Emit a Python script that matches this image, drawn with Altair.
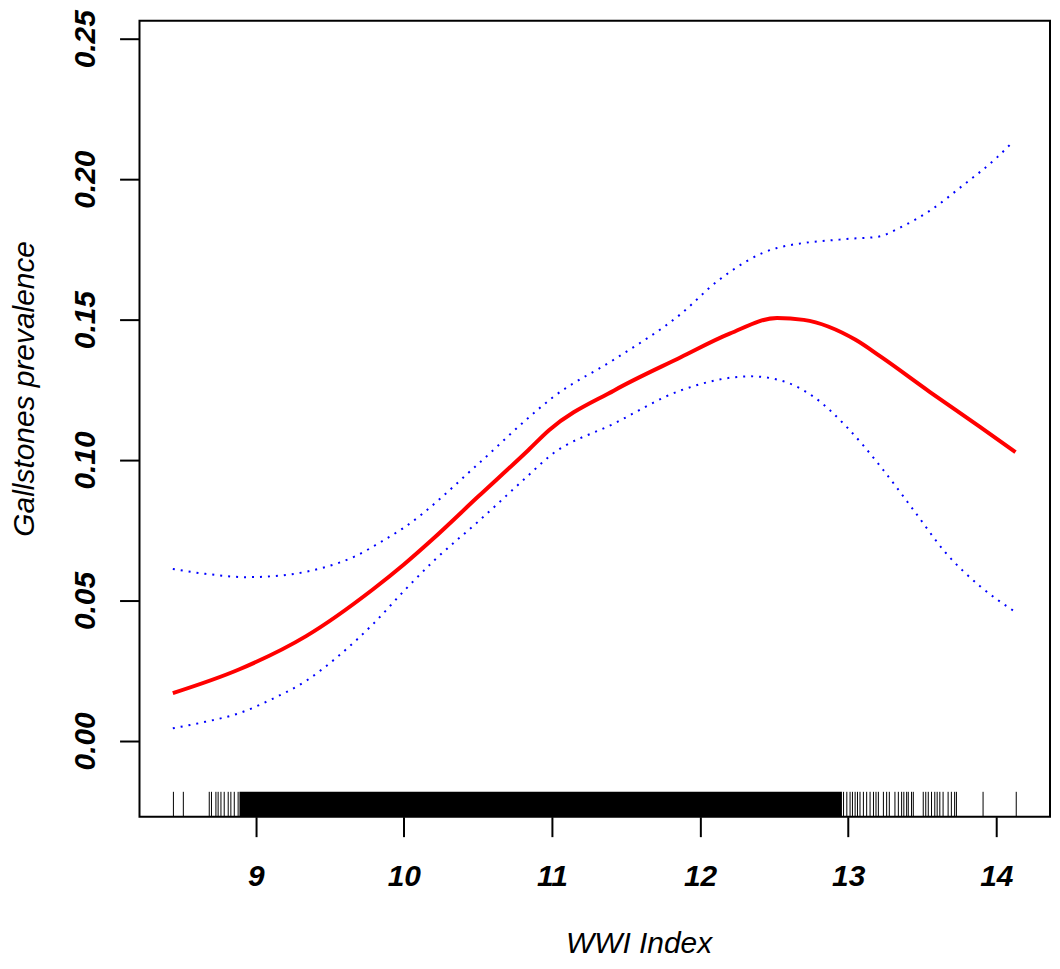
import altair as alt
import pandas as pd

# ---- data ----
fit_x = [8.44, 8.89, 9.34, 9.79, 10.0, 10.19, 10.5, 10.84, 10.98, 11.42, 11.87,
         12.20, 12.52, 12.70, 13.05, 13.22, 13.55, 13.89, 14.13]
fit_y = [0.0170, 0.0255, 0.0373, 0.0539, 0.0628, 0.0716, 0.0869, 0.1035, 0.1106,
         0.1248, 0.1366, 0.1450, 0.1506, 0.1499, 0.1428, 0.1368, 0.1243, 0.1118, 0.1028]

upper_x = [8.44, 8.66, 8.94, 9.22, 9.45, 9.67, 9.85, 10.0, 10.5, 10.84, 11.01,
           11.42, 11.87, 12.12, 12.52, 12.99, 13.20, 13.36, 13.55, 13.78, 14.0, 14.11]
upper_y = [0.0612, 0.0595, 0.0583, 0.0592, 0.0616, 0.0657, 0.0710, 0.0759, 0.0985,
           0.1150, 0.1225, 0.1358, 0.1520, 0.1638, 0.1755, 0.1787, 0.1795, 0.1830,
           0.1887, 0.1980, 0.2075, 0.2132]

lower_x = [8.44, 8.66, 8.89, 9.11, 9.34, 9.56, 9.79, 10.01, 10.21, 10.5, 10.84,
           10.98, 11.42, 11.87, 12.34, 12.54, 12.77, 12.99, 13.22, 13.44, 13.66,
           13.89, 14.12]
lower_y = [0.0045, 0.0068, 0.0099, 0.0149, 0.0214, 0.0303, 0.0415, 0.0539, 0.0645,
           0.0780, 0.0945, 0.1012, 0.1130, 0.1248, 0.1298, 0.1284, 0.1224, 0.1118,
           0.0976, 0.0823, 0.0669, 0.0551, 0.0462]

# rug: sparse observations in the tails, and the dense core as one block
rug_ticks = [8.444, 8.511, 8.686, 8.701, 8.731, 8.746, 8.765, 8.787, 8.814, 8.832,
             8.855, 8.881,
             12.969, 12.991, 13.013, 13.029, 13.047, 13.063, 13.080, 13.103, 13.125,
             13.148, 13.171, 13.188, 13.204, 13.238, 13.260, 13.278, 13.316, 13.339,
             13.361, 13.376, 13.395, 13.406, 13.428, 13.440, 13.507, 13.524, 13.541,
             13.563, 13.585, 13.601, 13.619, 13.641, 13.675, 13.697, 13.719, 13.731,
             13.911, 14.135]
rug_core_start = [8.89]
rug_core_end = [12.958]

x_ticks = [9, 10, 11, 12, 13, 14]
y_ticks = [0.00, 0.05, 0.10, 0.15, 0.20, 0.25]

x_domain = [8.215, 14.363]
y_domain = [-0.0270, 0.2564]

W, H = 914, 799
FONT = "Liberation Sans"

fit_df = pd.DataFrame({"x": fit_x, "y": fit_y})
up_df = pd.DataFrame({"x": upper_x, "y": upper_y})
lo_df = pd.DataFrame({"x": lower_x, "y": lower_y})
rug_df = pd.DataFrame({"x": rug_ticks})
core_df = pd.DataFrame({"x": rug_core_start, "x2": rug_core_end})

x_axis = alt.Axis(
    values=x_ticks, format="d", grid=False, domain=False,
    ticks=True, tickSize=20, tickWidth=2, tickColor="black",
    labelFont=FONT, labelFontSize=30, labelFontStyle="italic", labelFontWeight="bold",
    labelColor="black", labelPadding=25, labelFlush=False, labelOverlap=False,
    labelBaseline="top", labelAlign="center",
    title="WWI Index", titleFont=FONT, titleFontSize=30, titleFontStyle="italic",
    titleFontWeight="normal", titleColor="black", titleX=501, titleY=136,
    titleAlign="center", titleBaseline="alphabetic", titleAngle=0,
)
y_axis = alt.Axis(
    values=y_ticks, format=".2f", grid=False, domain=False,
    ticks=True, tickSize=20, tickWidth=2, tickColor="black",
    labelFont=FONT, labelFontSize=30, labelFontStyle="italic", labelFontWeight="bold",
    labelColor="black", labelPadding=25, labelFlush=False, labelOverlap=False,
    labelAngle=270, labelAlign="center", labelBaseline="alphabetic",
    title="Gallstones prevalence", titleFont=FONT, titleFontSize=30,
    titleFontStyle="italic", titleFontWeight="normal", titleColor="black",
    titleX=-106, titleY=369, titleAngle=270, titleAlign="center",
    titleBaseline="alphabetic",
)

x_enc = alt.X("x:Q", scale=alt.Scale(domain=x_domain, nice=False, zero=False), axis=x_axis)
y_enc = alt.Y("y:Q", scale=alt.Scale(domain=y_domain, nice=False, zero=False), axis=y_axis)

fit = alt.Chart(fit_df).mark_line(color="#ff0000", strokeWidth=4, interpolate="monotone").encode(x=x_enc, y=y_enc)
upper = alt.Chart(up_df).mark_line(color="#0000ff", strokeWidth=2, strokeDash=[2, 6],
                                   interpolate="monotone").encode(x=x_enc, y=y_enc)
lower = alt.Chart(lo_df).mark_line(color="#0000ff", strokeWidth=2, strokeDash=[2, 6],
                                   interpolate="monotone").encode(x=x_enc, y=y_enc)

rug = alt.Chart(rug_df).mark_rule(color="black", strokeWidth=1).encode(
    x=x_enc, y=alt.value(H - 25), y2=alt.value(H))
core = alt.Chart(core_df).mark_rect(color="black").encode(
    x=x_enc, x2="x2:Q", y=alt.value(H - 25), y2=alt.value(H))

chart = alt.layer(core, rug, lower, upper, fit).properties(
    width=W, height=H,
    autosize=alt.AutoSizeParams(type="none"),
    padding={"left": 132, "top": 11, "right": 2, "bottom": 143},
    background="white",
).configure_view(stroke="black", strokeWidth=2)

chart.save("out.html", embed_options={"renderer": "svg", "actions": False})
